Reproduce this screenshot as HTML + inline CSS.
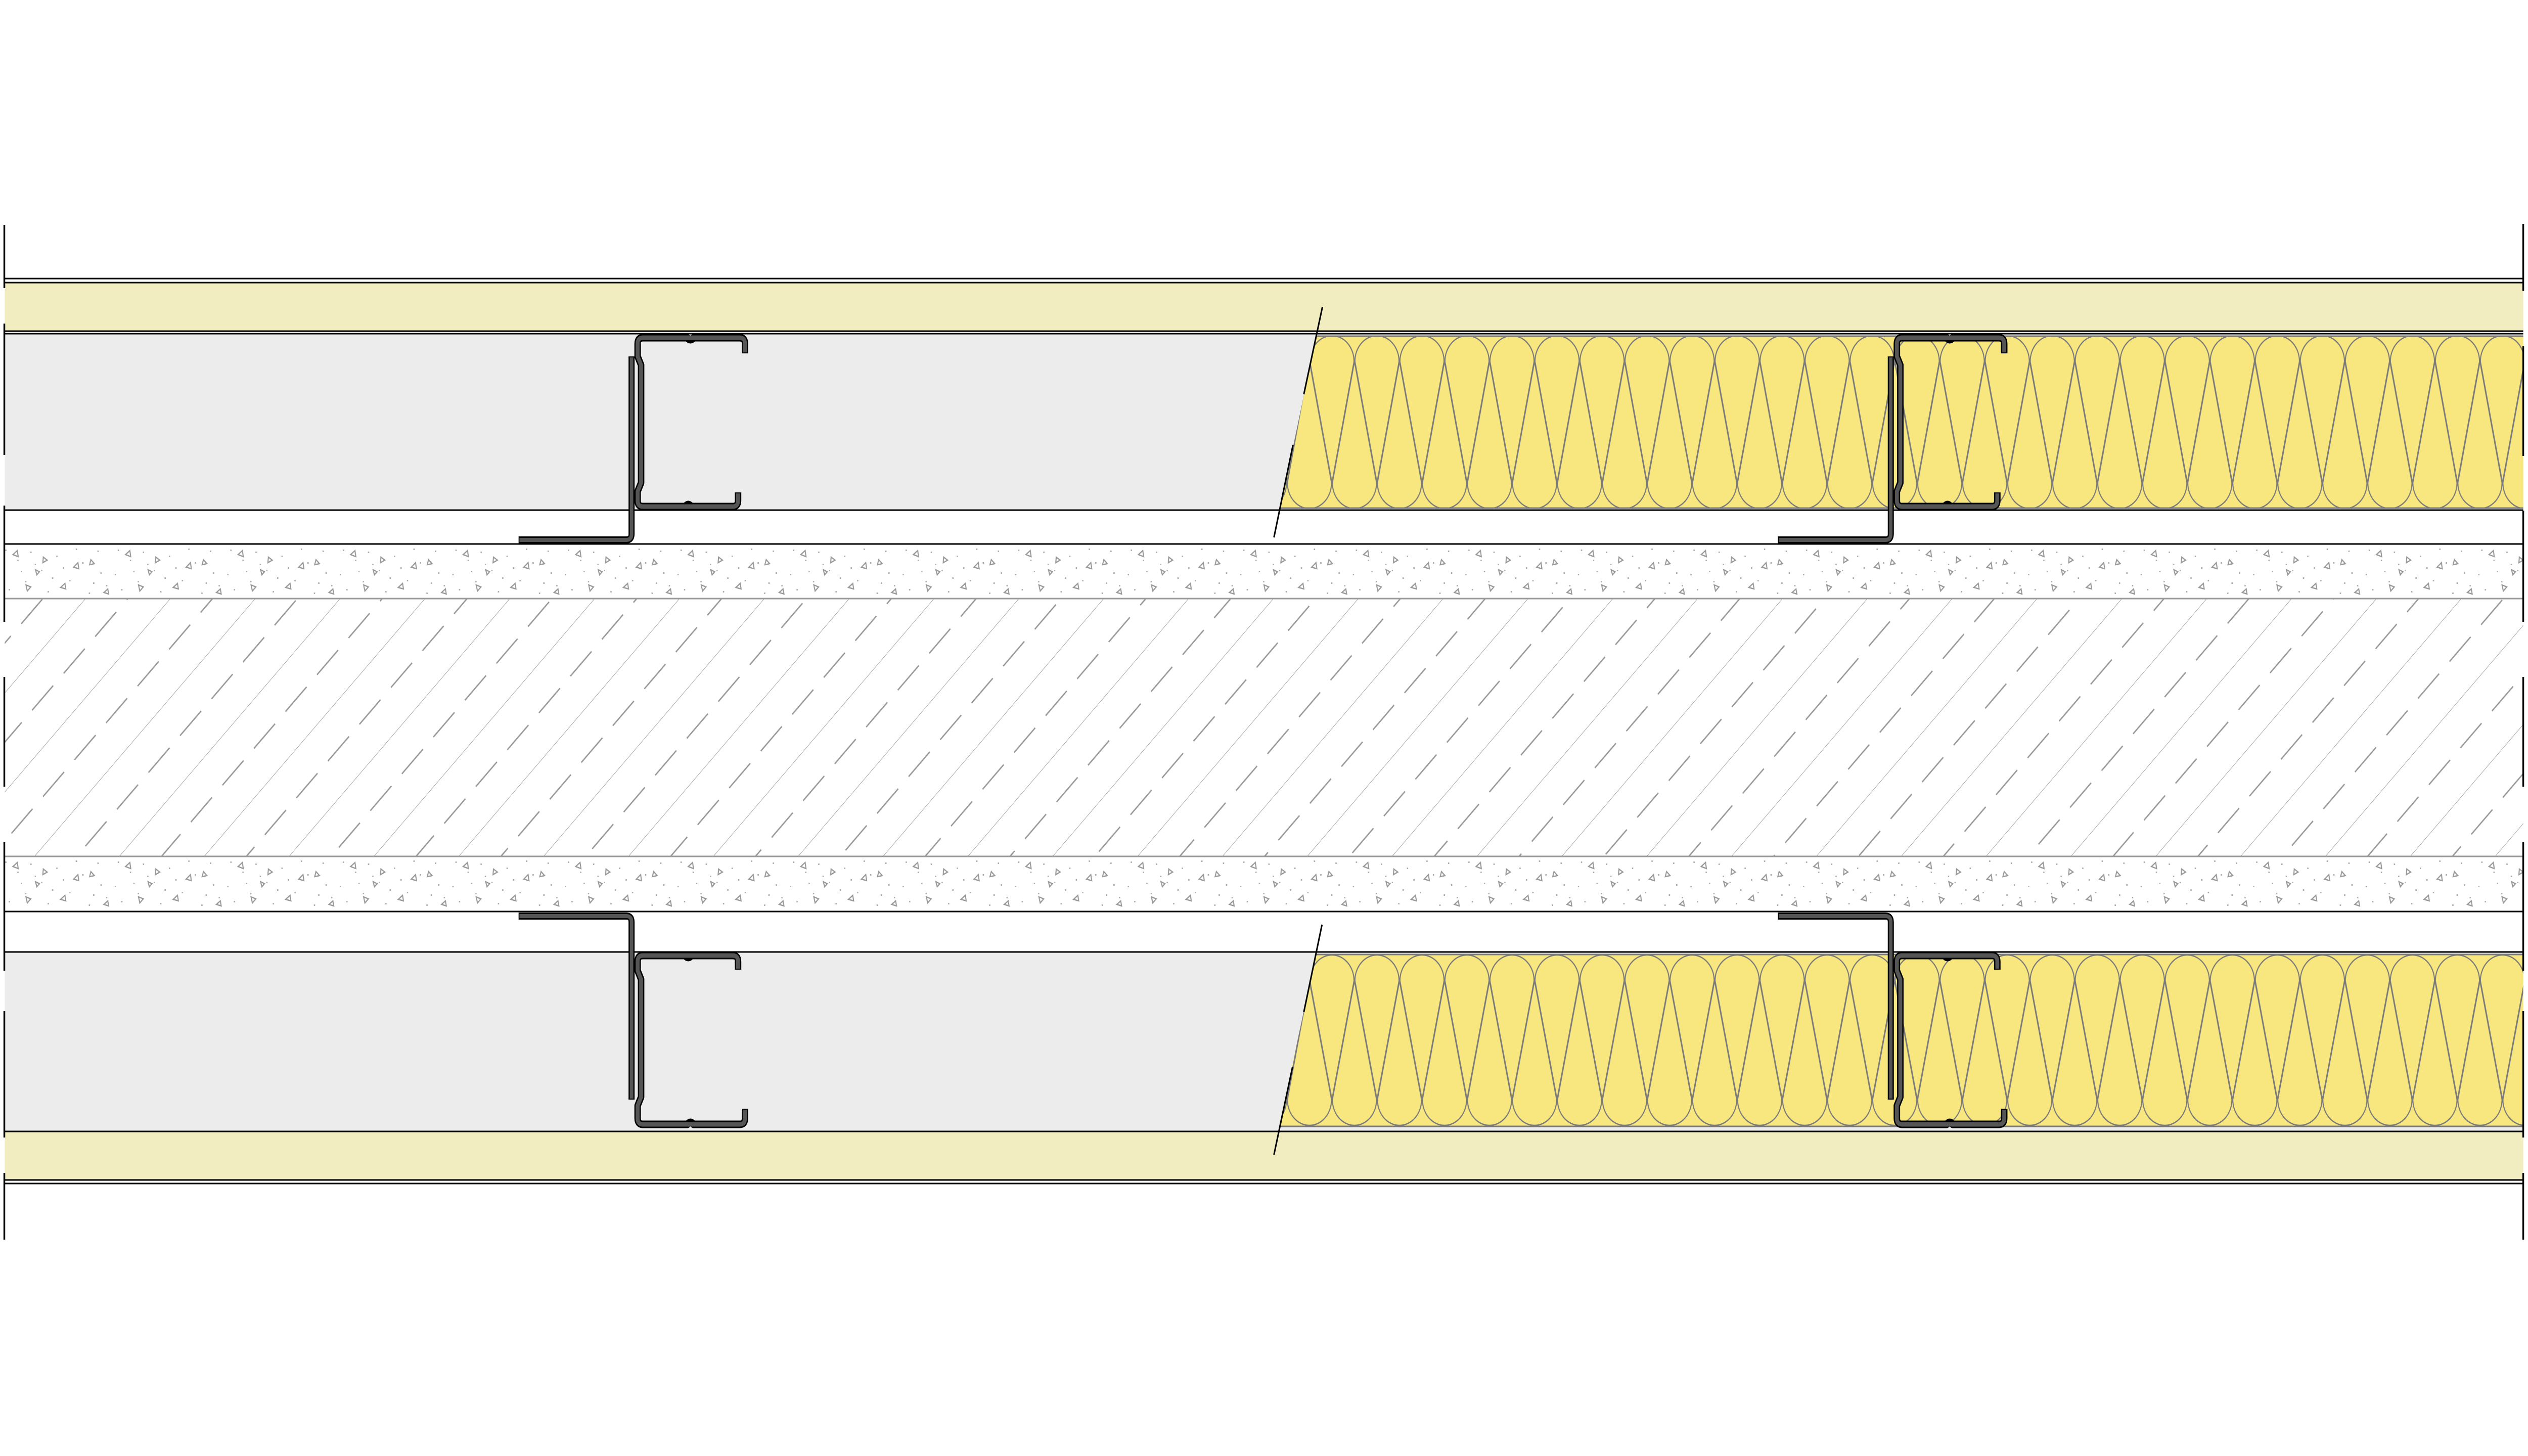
<!DOCTYPE html>
<html><head><meta charset="utf-8"><style>html,body{margin:0;padding:0;background:#fff;overflow:hidden;width:100vw;height:100vh}svg{display:block;width:100vw;height:100vh}</style></head>
<body>
<svg viewBox="0 0 5840 2880" preserveAspectRatio="none" xmlns="http://www.w3.org/2000/svg">
<defs>
<pattern id="hatch" patternUnits="userSpaceOnUse" width="103" height="138.6" patternTransform="translate(0,1185) rotate(-45)">
<line x1="-5" y1="0" x2="110" y2="0" stroke="#999" stroke-width="2"/>
<line x1="0" y1="69.3" x2="69" y2="69.3" stroke="#999" stroke-width="3"/>
</pattern>
<pattern id="speck" patternUnits="userSpaceOnUse" width="260" height="106" x="0" y="1077">
<g fill="#aaa">
<rect x="12" y="10" width="3" height="3"/><rect x="40" y="30" width="3" height="3"/><rect x="70" y="14" width="3" height="3"/>
<rect x="95" y="50" width="3" height="3"/><rect x="130" y="22" width="3" height="3"/><rect x="160" y="70" width="3" height="3"/>
<rect x="190" y="35" width="3" height="3"/><rect x="225" y="12" width="3" height="3"/><rect x="245" y="80" width="3" height="3"/>
<rect x="20" y="88" width="3" height="3"/><rect x="58" y="72" width="3" height="3"/><rect x="110" y="92" width="3" height="3"/>
<rect x="145" y="45" width="3" height="3"/><rect x="205" y="95" width="3" height="3"/><rect x="80" y="38" width="3" height="3"/>
<rect x="175" y="8" width="3" height="3"/><rect x="232" y="55" width="3" height="3"/><rect x="5" y="58" width="3" height="3"/>
<rect x="120" y="65" width="3" height="3"/><rect x="215" y="75" width="3" height="3"/><rect x="48" y="52" width="3" height="3"/>
</g>
<g fill="none" stroke="#999" stroke-width="2.5">
<path d="M30,20 l10,-8 l2,12 z"/><path d="M100,25 l9,6 l-10,5 z"/><path d="M170,45 l10,-9 l2,12 z"/>
<path d="M60,80 l11,4 l-8,8 z"/><path d="M210,30 l8,8 l-11,2 z"/><path d="M140,85 l10,-8 l2,11 z"/>
<path d="M240,95 l9,-7 l2,10 z"/><path d="M85,60 l-3,-10 l9,4 z"/>
</g>
</pattern>
<pattern id="speck2" href="#speck" y="1694"/>
<pattern id="ins1" patternUnits="userSpaceOnUse" x="3025" y="664" width="104" height="342">
<g fill="none" stroke="#7a7a7a" stroke-width="2.5">
<path d="M1,51 A51,51 0 0 1 103,51"/>
<path d="M1,51 L52,291 M103,51 L52,291"/>
<path d="M-51,291 A51,51 0 0 0 51,291 M53,291 A51,51 0 0 0 155,291"/>
<path d="M51,291 L0,51 M53,291 L104,51"/>
</g>
</pattern>
<pattern id="ins2" patternUnits="userSpaceOnUse" x="3025" y="1887" width="104" height="341">
<g fill="none" stroke="#7a7a7a" stroke-width="2.5">
<path d="M1,53 A51,51 0 0 1 103,53"/>
<path d="M1,53 L52,288 M103,53 L52,288"/>
<path d="M-51,288 A51,51 0 0 0 51,288 M53,288 A51,51 0 0 0 155,288"/>
<path d="M51,288 L0,53 M53,288 L104,53"/>
</g>
</pattern>
<clipPath id="c1"><polygon points="3041,664 5829,664 5829,1006 2957,1006"/></clipPath>
<clipPath id="c2"><polygon points="3040,1887 5829,1887 5829,2228 2955,2228"/></clipPath>
<g id="stud">
<path d="M1721,699 L1721,680 Q1721,668 1709,668 L1602,668 Q1595,676 1588,668 L1485,668 Q1473,668 1473,680 L1473,705 L1481,722 L1481,955 L1473,972 L1473,990 Q1473,1002 1485,1002 L1597,1002 Q1590,994 1583,1002 L1693,1002 Q1705,1002 1705,990 L1705,974" fill="none" stroke="#000" stroke-width="15" stroke-linejoin="round"/>
<path d="M1721,697 L1721,680 Q1721,668 1709,668 L1485,668 Q1473,668 1473,680 L1473,705 L1481,722 L1481,955 L1473,972 L1473,990 Q1473,1002 1485,1002 L1693,1002 Q1705,1002 1705,990 L1705,976" fill="none" stroke="#555" stroke-width="9" stroke-linejoin="round"/>
</g>
<g id="angle">
<path d="M1459,705 L1459,1056 Q1459,1068 1447,1068 L1198,1068" fill="none" stroke="#000" stroke-width="14"/>
<path d="M1459,707 L1459,1056 Q1459,1068 1447,1068 L1200,1068" fill="none" stroke="#555" stroke-width="8"/>
</g>
</defs>

<rect x="11" y="560" width="5818" height="95" fill="#f2ecc1"/>
<rect x="11" y="661" width="5818" height="348" fill="#ececec"/>
<polygon points="3041,664 5829,664 5829,1006 2957,1006" fill="#f8e77f"/>
<rect x="2940" y="664" width="2889" height="342" fill="url(#ins1)" clip-path="url(#c1)"/>
<line x1="3041" y1="665" x2="5829" y2="665" stroke="#7a7a7a" stroke-width="3"/>
<line x1="2957" y1="1005" x2="5829" y2="1005" stroke="#7a7a7a" stroke-width="3"/>
<rect x="11" y="1077" width="5818" height="107" fill="url(#speck)"/>
<rect x="11" y="1694" width="5818" height="109" fill="url(#speck2)"/>
<rect x="11" y="1185" width="5818" height="508" fill="url(#hatch)"/>
<rect x="11" y="1884" width="5818" height="354" fill="#ececec"/>
<polygon points="3040,1887 5829,1887 5829,2228 2955,2228" fill="#f8e77f"/>
<rect x="2940" y="1887" width="2889" height="341" fill="url(#ins2)" clip-path="url(#c2)"/>
<line x1="3040" y1="1888" x2="5829" y2="1888" stroke="#7a7a7a" stroke-width="3"/>
<line x1="2955" y1="2228" x2="5829" y2="2228" stroke="#7a7a7a" stroke-width="3"/>
<rect x="11" y="2239" width="5818" height="95" fill="#f2ecc1"/>

<g stroke="#000" stroke-width="3">
<line x1="11" y1="551" x2="5829" y2="551"/>
<line x1="11" y1="559" x2="5829" y2="559"/>
<line x1="11" y1="655" x2="5829" y2="655"/>
<line x1="11" y1="660" x2="5829" y2="660"/>
<line x1="11" y1="1009" x2="5829" y2="1009"/>
<line x1="11" y1="1076" x2="5829" y2="1076"/>
<line x1="11" y1="1803" x2="5829" y2="1803"/>
<line x1="11" y1="1883" x2="5829" y2="1883"/>
<line x1="11" y1="2238" x2="5829" y2="2238"/>
<line x1="11" y1="2334" x2="5829" y2="2334"/>
<line x1="11" y1="2341" x2="5829" y2="2341"/>
</g>
<g stroke="#999" stroke-width="3">
<line x1="11" y1="1184" x2="5829" y2="1184"/>
<line x1="11" y1="1694" x2="5829" y2="1694"/>
</g>
<g stroke="#000" stroke-width="4">
<line x1="10" y1="445" x2="10" y2="570"/><line x1="10" y1="640" x2="10" y2="900"/>
<line x1="10" y1="1000" x2="10" y2="1230"/><line x1="10" y1="1339" x2="10" y2="1556"/>
<line x1="10" y1="1666" x2="10" y2="1920"/><line x1="10" y1="2000" x2="10" y2="2250"/>
<line x1="10" y1="2320" x2="10" y2="2452"/>
<line x1="5829" y1="443" x2="5829" y2="575"/><line x1="5829" y1="685" x2="5829" y2="902"/>
<line x1="5829" y1="1010" x2="5829" y2="1230"/><line x1="5829" y1="1339" x2="5829" y2="1556"/>
<line x1="5829" y1="1666" x2="5829" y2="1920"/><line x1="5829" y1="2000" x2="5829" y2="2250"/>
<line x1="5829" y1="2320" x2="5829" y2="2452"/>
</g>
<g stroke="#000" stroke-width="3.5">
<line x1="3055" y1="607" x2="3012" y2="780"/>
<line x1="2987" y1="880" x2="2943" y2="1063"/>
<line x1="3054" y1="1829" x2="3012" y2="2002"/>
<line x1="2986" y1="2110" x2="2943" y2="2284"/>
</g>

<use href="#stud"/>
<use href="#angle"/>
<use href="#stud" transform="translate(2909,0)"/>
<use href="#angle" transform="translate(2909,0)"/>
<use href="#stud" transform="translate(0,2892) scale(1,-1)"/>
<use href="#angle" transform="translate(0,2880) scale(1,-1)"/>
<use href="#stud" transform="translate(2909,2892) scale(1,-1)"/>
<use href="#angle" transform="translate(2909,2880) scale(1,-1)"/>
</svg>
</body></html>
